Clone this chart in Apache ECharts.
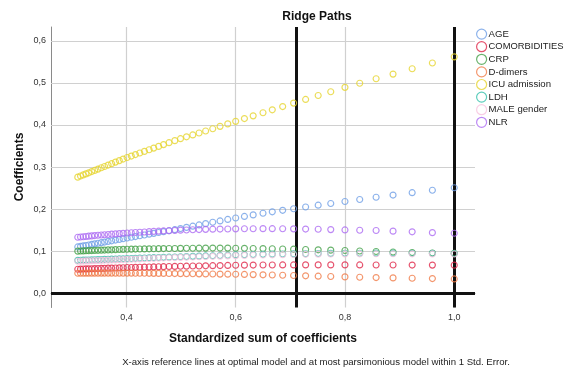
<!DOCTYPE html>
<html>
<head>
<meta charset="utf-8">
<script src="https://cdn.jsdelivr.net/npm/echarts@6.0.0/dist/echarts.min.js"></script>
<style>
  html, body { margin: 0; padding: 0; background: #fff; }
  #chart { width: 567px; height: 370px; }
</style>
</head>
<body>
<div id="chart"></div>
<script>
// Standardized sum of coefficients along the ridge path
const standardizedSum = [
  0.311, 0.316, 0.321, 0.326, 0.331, 0.3365, 0.342, 0.348, 0.354, 0.360,
  0.3665, 0.373, 0.380, 0.387, 0.394, 0.4013, 0.409, 0.4165, 0.4245, 0.433,
  0.4416, 0.450, 0.459, 0.468, 0.478, 0.4886, 0.499, 0.510, 0.5215, 0.533,
  0.545, 0.558, 0.5714, 0.5855, 0.600, 0.616, 0.632, 0.650, 0.667, 0.686,
  0.706, 0.728, 0.751, 0.774, 0.800, 0.827, 0.857, 0.888, 0.923, 0.960, 1.000
];

// Coefficient of each predictor at every step
const age = [
  0.1100, 0.1112, 0.1124, 0.1135, 0.1147, 0.1160, 0.1173, 0.1187, 0.1201, 0.1216,
  0.1231, 0.1246, 0.1263, 0.1279, 0.1296, 0.1313, 0.1330, 0.1347, 0.1365, 0.1384,
  0.1404, 0.1423, 0.1443, 0.1463, 0.1486, 0.1511, 0.1537, 0.1565, 0.1594, 0.1623,
  0.1654, 0.1686, 0.1719, 0.1754, 0.1789, 0.1826, 0.1862, 0.1902, 0.1935, 0.1971,
  0.2007, 0.2049, 0.2093, 0.2134, 0.2180, 0.2228, 0.2281, 0.2333, 0.2390, 0.2447, 0.2507
];
const comorbidities = [
  0.0570, 0.0572, 0.0575, 0.0577, 0.0579, 0.0582, 0.0584, 0.0587, 0.0589, 0.0592,
  0.0595, 0.0597, 0.0600, 0.0603, 0.0606, 0.0610, 0.0612, 0.0615, 0.0617, 0.0620,
  0.0622, 0.0625, 0.0628, 0.0631, 0.0634, 0.0637, 0.0640, 0.0643, 0.0646, 0.0648,
  0.0651, 0.0654, 0.0657, 0.0661, 0.0665, 0.0667, 0.0669, 0.0670, 0.0671, 0.0672,
  0.0672, 0.0673, 0.0673, 0.0673, 0.0673, 0.0672, 0.0671, 0.0670, 0.0669, 0.0668, 0.0667
];
const crp = [
  0.1000, 0.1003, 0.1006, 0.1009, 0.1011, 0.1014, 0.1017, 0.1020, 0.1023, 0.1026,
  0.1029, 0.1032, 0.1036, 0.1039, 0.1042, 0.1045, 0.1047, 0.1049, 0.1051, 0.1053,
  0.1055, 0.1057, 0.1059, 0.1061, 0.1063, 0.1064, 0.1066, 0.1068, 0.1070, 0.1071,
  0.1072, 0.1073, 0.1073, 0.1072, 0.1070, 0.1067, 0.1064, 0.1060, 0.1056, 0.1052,
  0.1047, 0.1040, 0.1032, 0.1024, 0.1015, 0.1004, 0.0992, 0.0979, 0.0966, 0.0956, 0.0950
];
const dDimers = [
  0.0474, 0.0475, 0.0475, 0.0476, 0.0476, 0.0477, 0.0477, 0.0477, 0.0478, 0.0478,
  0.0478, 0.0478, 0.0477, 0.0477, 0.0477, 0.0476, 0.0476, 0.0475, 0.0474, 0.0474,
  0.0473, 0.0472, 0.0471, 0.0470, 0.0468, 0.0467, 0.0465, 0.0464, 0.0462, 0.0460,
  0.0458, 0.0456, 0.0454, 0.0452, 0.0450, 0.0446, 0.0442, 0.0437, 0.0432, 0.0426,
  0.0420, 0.0413, 0.0405, 0.0397, 0.0388, 0.0380, 0.0372, 0.0364, 0.0356, 0.0348, 0.0340
];
const icuAdmission = [
  0.2760, 0.2786, 0.2812, 0.2838, 0.2863, 0.2892, 0.2920, 0.2951, 0.2982, 0.3013,
  0.3047, 0.3080, 0.3117, 0.3153, 0.3189, 0.3226, 0.3261, 0.3296, 0.3333, 0.3372,
  0.3411, 0.3450, 0.3491, 0.3533, 0.3579, 0.3628, 0.3675, 0.3718, 0.3764, 0.3809,
  0.3857, 0.3911, 0.3967, 0.4026, 0.4086, 0.4152, 0.4217, 0.4291, 0.4360, 0.4438,
  0.4520, 0.4608, 0.4700, 0.4791, 0.4895, 0.4992, 0.5099, 0.5210, 0.5338, 0.5474, 0.5620
];
const ldh = [
  0.0780, 0.0783, 0.0785, 0.0787, 0.0790, 0.0792, 0.0795, 0.0798, 0.0800, 0.0803,
  0.0806, 0.0809, 0.0812, 0.0815, 0.0818, 0.0821, 0.0825, 0.0829, 0.0833, 0.0837,
  0.0841, 0.0845, 0.0849, 0.0853, 0.0857, 0.0862, 0.0867, 0.0871, 0.0876, 0.0881,
  0.0886, 0.0891, 0.0896, 0.0903, 0.0910, 0.0915, 0.0920, 0.0925, 0.0929, 0.0932,
  0.0935, 0.0939, 0.0943, 0.0947, 0.0950, 0.0951, 0.0952, 0.0952, 0.0950, 0.0948, 0.0945
];
const maleGender = [
  0.0760, 0.0762, 0.0764, 0.0767, 0.0769, 0.0772, 0.0775, 0.0778, 0.0781, 0.0784,
  0.0787, 0.0790, 0.0793, 0.0797, 0.0800, 0.0804, 0.0808, 0.0812, 0.0816, 0.0820,
  0.0825, 0.0829, 0.0833, 0.0838, 0.0842, 0.0847, 0.0852, 0.0857, 0.0862, 0.0867,
  0.0872, 0.0877, 0.0882, 0.0888, 0.0894, 0.0899, 0.0904, 0.0909, 0.0913, 0.0917,
  0.0920, 0.0924, 0.0928, 0.0931, 0.0934, 0.0936, 0.0937, 0.0937, 0.0936, 0.0934, 0.0932
];
const nlr = [
  0.1330, 0.1337, 0.1343, 0.1349, 0.1356, 0.1362, 0.1370, 0.1377, 0.1384, 0.1390,
  0.1397, 0.1403, 0.1410, 0.1417, 0.1424, 0.1431, 0.1437, 0.1443, 0.1450, 0.1456,
  0.1463, 0.1470, 0.1475, 0.1481, 0.1487, 0.1493, 0.1499, 0.1504, 0.1509, 0.1513,
  0.1518, 0.1522, 0.1525, 0.1527, 0.1530, 0.1532, 0.1533, 0.1535, 0.1534, 0.1532,
  0.1530, 0.1525, 0.1520, 0.1512, 0.1505, 0.1498, 0.1490, 0.1476, 0.1460, 0.1440, 0.1425
];

const seriesNames = ['AGE', 'COMORBIDITIES', 'CRP', 'D-dimers', 'ICU admission', 'LDH', 'MALE gender', 'NLR'];
const seriesValues = [age, comorbidities, crp, dDimers, icuAdmission, ldh, maleGender, nlr];
const seriesColors = ['#6f9fe6', '#e0284a', '#45a048', '#f07c48', '#e6d430', '#35c0ab', '#f8c2de', '#ad6bf2'];

// Axis ticks and reference lines
const xTicks = [0.4, 0.6, 0.8, 1.0];
const yTicks = [0.0, 0.1, 0.2, 0.3, 0.4, 0.5, 0.6];
const referenceLines = [0.7056, 1.0];

const FONT = '"Liberation Sans", Arial, sans-serif';
const commaFmt = v => v.toFixed(1).replace('.', ',');

// Legend column is narrow: shrink any label wider than it so it stays inside the page
const LEGEND_TEXT_SIZE = 9.6;
const LEGEND_TEXT_MAX = 75;
const measureCtx = document.createElement('canvas').getContext('2d');
function fittedSize(text) {
  measureCtx.font = LEGEND_TEXT_SIZE + 'px ' + FONT;
  const w = measureCtx.measureText(text).width;
  return w > LEGEND_TEXT_MAX ? LEGEND_TEXT_SIZE * LEGEND_TEXT_MAX / w : LEGEND_TEXT_SIZE;
}
const longLabel = seriesNames.find(n => fittedSize(n) < LEGEND_TEXT_SIZE);

const chart = echarts.init(document.getElementById('chart'), null, { renderer: 'canvas' });

const pointSeries = seriesNames.map((name, i) => ({
  name,
  type: 'scatter',
  z: 5,
  symbol: 'circle',
  symbolSize: 6,
  itemStyle: { color: 'rgba(255,255,255,0)', borderColor: seriesColors[i], borderWidth: 1.15 },
  emphasis: { disabled: true },
  data: standardizedSum.map((x, k) => [x, seriesValues[i][k]])
}));

const gridSeries = {
  name: '__grid',
  type: 'line',
  z: 1,
  silent: true,
  data: [],
  markLine: {
    silent: true,
    symbol: 'none',
    animation: false,
    label: { show: false },
    lineStyle: { color: '#d0d0d0', width: 1.2, type: 'solid' },
    data: [
      ...xTicks.map(v => ({ xAxis: v })),
      ...yTicks.filter(v => v !== 0).map(v => ({ yAxis: v }))
    ]
  }
};

const refSeries = {
  name: '__ref',
  type: 'line',
  z: 2,
  silent: true,
  data: [],
  markLine: {
    silent: true,
    symbol: 'none',
    animation: false,
    label: { show: false },
    lineStyle: { color: '#111', width: 3, type: 'solid' },
    data: [
      ...referenceLines.map(v => ({ xAxis: v })),
      { yAxis: 0 }
    ]
  }
};

chart.setOption({
  animation: false,
  backgroundColor: '#fff',
  grid: { left: 51, right: 92, top: 27, bottom: 62.5, containLabel: false },
  xAxis: {
    type: 'value',
    min: 0.262,
    max: 1.038,
    axisLine: { show: true, lineStyle: { color: '#8a8a8a', width: 1 } },
    axisTick: { show: false },
    splitLine: { show: false },
    axisLabel: {
      customValues: xTicks,
      formatter: commaFmt,
      color: '#333', fontSize: 9, fontFamily: FONT, margin: 6
    }
  },
  yAxis: {
    type: 'value',
    min: -0.034,
    max: 0.633,
    axisLine: { show: true, lineStyle: { color: '#8a8a8a', width: 1 } },
    axisTick: { show: false },
    splitLine: { show: false },
    axisLabel: {
      customValues: yTicks,
      formatter: commaFmt,
      color: '#333', fontSize: 9, fontFamily: FONT, margin: 5
    }
  },
  legend: {
    orient: 'vertical',
    left: 476,
    top: 28.5,
    padding: 0,
    itemGap: 1.4,
    itemWidth: 10,
    itemHeight: 10,
    selectedMode: false,
    formatter: name => name === longLabel ? '{n|' + name + '}' : name,
    textStyle: {
      color: '#222', fontSize: LEGEND_TEXT_SIZE, lineHeight: 10, fontFamily: FONT, padding: [0, 0, 0, -3],
      rich: { n: { fontSize: longLabel ? fittedSize(longLabel) : LEGEND_TEXT_SIZE, lineHeight: 10, fontFamily: FONT, color: '#222' } }
    },
    data: seriesNames.map((name, i) => ({
      name,
      icon: 'circle',
      itemStyle: { color: 'rgba(255,255,255,0)', borderColor: seriesColors[i], borderWidth: 1.2 }
    }))
  },
  graphic: [
    { type: 'text', x: 317, y: 17, silent: true,
      style: { text: 'Ridge Paths', font: 'bold 12px ' + FONT, fill: '#111', align: 'center', verticalAlign: 'middle' } },
    { type: 'text', x: 19.5, y: 167, rotation: Math.PI / 2, silent: true,
      style: { text: 'Coefficients', font: 'bold 12px ' + FONT, fill: '#111', align: 'center', verticalAlign: 'middle' } },
    { type: 'text', x: 263, y: 339, silent: true,
      style: { text: 'Standardized sum of coefficients', font: 'bold 12px ' + FONT, fill: '#111', align: 'center', verticalAlign: 'middle' } },
    { type: 'text', x: 316, y: 362, silent: true,
      style: { text: 'X-axis reference lines at optimal model and at most parsimonious model within 1 Std. Error.', font: '9.6px ' + FONT, fill: '#222', align: 'center', verticalAlign: 'middle' } }
  ],
  series: [gridSeries, refSeries, ...pointSeries]
});
</script>
</body>
</html>
